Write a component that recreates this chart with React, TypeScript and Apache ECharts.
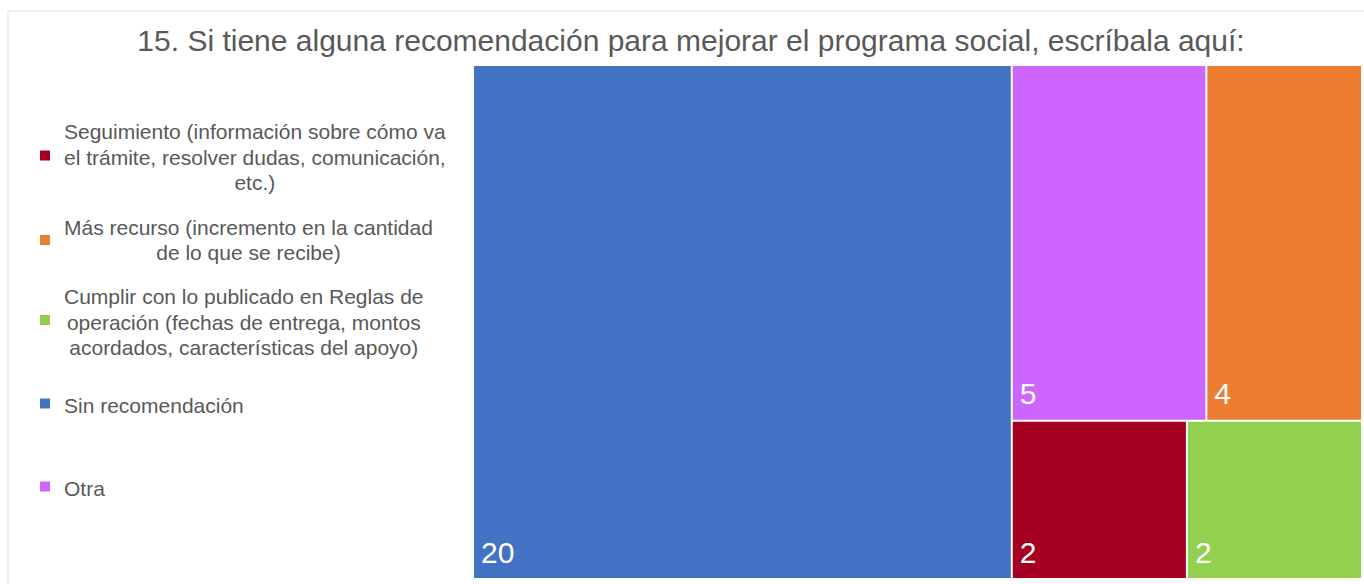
import React, { useEffect, useRef } from "react";
import * as echarts from "echarts";

const titleText =
  "15. Si tiene alguna recomendación para mejorar el programa social, escríbala aquí:";

const categories = [
  "Seguimiento (información sobre cómo va\nel trámite, resolver dudas, comunicación,\netc.)",
  "Más recurso (incremento en la cantidad\nde lo que se recibe)",
  "Cumplir con lo publicado en Reglas de\noperación (fechas de entrega, montos\nacordados, características del apoyo)",
  "Sin recomendación",
  "Otra",
];
const values = [2, 4, 2, 20, 5];
const colors = ["#A50021", "#ED7D31", "#92D050", "#4472C4", "#CC66FF"];

// legend layout
const legendLeft = 64;
const legendY = [157, 240, 322, 405, 488];
const markerY = [155.5, 240, 320, 403.5, 486.5];

export default function App() {
  const ref = useRef<HTMLDivElement>(null);
  useEffect(() => {
    if (!ref.current) return;
    const chart = echarts.init(ref.current, null, { renderer: "svg" });
    const font = "Arial, 'Liberation Sans', sans-serif";
    const legendFont = `21px ${font}`;
    const canvas = document.createElement("canvas");
    const ctx = canvas.getContext("2d") as CanvasRenderingContext2D;
    ctx.font = legendFont;
    const graphics: any[] = [
      {
        type: "rect",
        shape: { x: 8, y: 11, width: 1420, height: 620 },
        style: { fill: "none", stroke: "#ececec", lineWidth: 1.5 },
        silent: true,
      },
      {
        type: "text",
        x: 691,
        y: 40,
        style: {
          text: titleText,
          fill: "#595959",
          font: `30px ${font}`,
          textAlign: "center",
          textVerticalAlign: "middle",
        },
      },
    ];
    categories.forEach((c, i) => {
      const maxW = Math.max(...c.split("\n").map((l) => ctx.measureText(l).width));
      graphics.push({
        type: "rect",
        shape: { x: 40, y: markerY[i] - 5, width: 10, height: 10 },
        style: { fill: colors[i] },
      });
      graphics.push({
        type: "text",
        x: legendLeft + maxW / 2,
        y: legendY[i],
        style: {
          text: c,
          fill: "#595959",
          font: legendFont,
          lineHeight: 25.5,
          textAlign: "center",
          textVerticalAlign: "middle",
        },
      });
    });
    const seriesData = categories
      .map((c, i) => ({
        name: c,
        value: values[i],
        itemStyle: { color: colors[i] },
      }))
      .reverse();
    chart.setOption({
      animation: false,
      backgroundColor: "#ffffff",
      graphic: graphics,
      series: [
        {
          type: "treemap",
          left: 474,
          top: 66,
          width: 887,
          height: 512,
          roam: false,
          nodeClick: false,
          breadcrumb: { show: false },
          upperLabel: { show: false },
          label: {
            show: true,
            position: "insideBottomLeft",
            distance: 6,
            offset: [-4, 0],
            formatter: "{c}",
            color: "#ffffff",
            fontSize: 30,
            fontFamily: font,
          },
          itemStyle: { borderWidth: 0, gapWidth: 2, borderColor: "#ffffff" },
          levels: [{ itemStyle: { borderWidth: 0, gapWidth: 2, borderColor: "#ffffff" } }],
          data: seriesData,
        },
      ],
    });
    return () => chart.dispose();
  }, []);
  return (
    <div
      ref={ref}
      style={{ position: "fixed", left: 0, top: 0, width: 1364, height: 584 }}
    />
  );
}
